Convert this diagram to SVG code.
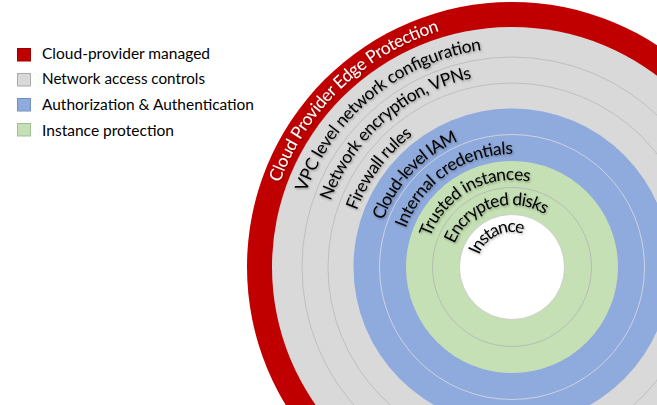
<svg xmlns="http://www.w3.org/2000/svg" width="657" height="405" viewBox="0 0 657 405">
<defs>
<style>
.lbl{font-family:Lato,"Liberation Sans",sans-serif;font-size:17.4px;fill:#000}
.wl{fill:#fff}
.leg{font-family:Lato,"Liberation Sans",sans-serif;font-size:15.5px;fill:#000}
.sep{fill:none;stroke-width:1}
</style>
<filter id="sh" x="-20%" y="-20%" width="140%" height="140%">
<feDropShadow dx="1" dy="1.2" stdDeviation="1.2" flood-color="#000" flood-opacity="0.35"/>
</filter>
<path id="p1" d="M279.90,182.52 A247,247 0 0 1 701.21,108.23"/>
<path id="p2" d="M306.21,192.10 A219,219 0 0 1 679.76,126.23"/>
<path id="p3" d="M330.64,200.99 A193,193 0 0 1 659.85,142.94"/>
<path id="p4" d="M356.95,210.57 A165,165 0 0 1 638.40,160.94"/>
<path id="p5" d="M383.26,220.14 A137,137 0 0 1 616.95,178.94"/>
<path id="p6" d="M405.81,228.35 A113,113 0 0 1 598.56,194.36"/>
<path id="p7" d="M430.25,237.24 A87,87 0 0 1 578.65,211.08"/>
<path id="p8" d="M453.74,245.79 A62,62 0 0 1 559.49,227.15"/>
<path id="p9" d="M479.11,255.03 A35,35 0 0 1 538.81,244.50"/>
</defs>
<rect width="657" height="405" fill="#fff"/>
<g id="legend">
<g id="legend-cloud"><rect x="17.5" y="48.5" width="13" height="12.5" fill="#C00000" stroke="#9a0000"/><text class="leg" x="42" y="59" textLength="168" lengthAdjust="spacingAndGlyphs">Cloud-provider managed</text></g>
<g id="legend-network"><rect x="17.5" y="73.5" width="13" height="12.5" fill="#D9D9D9" stroke="#aaaaaa"/><text class="leg" x="42" y="84" textLength="163" lengthAdjust="spacingAndGlyphs">Network access controls</text></g>
<g id="legend-auth"><rect x="17.5" y="98.5" width="13" height="12.5" fill="#8FAADC" stroke="#7490c0"/><text class="leg" x="42" y="110" textLength="212" lengthAdjust="spacingAndGlyphs">Authorization &amp; Authentication</text></g>
<g id="legend-instance"><rect x="17.5" y="123.5" width="13" height="12.5" fill="#C5E0B4" stroke="#a4bd95"/><text class="leg" x="42" y="136" textLength="132" lengthAdjust="spacingAndGlyphs">Instance protection</text></g>
</g>
<g id="rings">
<g id="ring-cloud"><circle cx="512" cy="267" r="265" fill="#C00000"/></g>
<g id="ring-network"><circle cx="512" cy="267" r="240" fill="#D9D9D9"/>
<circle class="sep" cx="512" cy="267" r="210" stroke="#BFBFBF"/>
<circle class="sep" cx="512" cy="267" r="184" stroke="#BFBFBF"/></g>
<g id="ring-auth"><circle cx="512" cy="267" r="158.5" fill="#8FAADC"/>
<circle class="sep" cx="512" cy="267" r="132.5" stroke="#CCD3E0"/></g>
<g id="ring-instance"><circle cx="512" cy="267" r="106" fill="#C5E0B4"/>
<circle class="sep" cx="512" cy="267" r="79.5" stroke="#B8BDB4"/></g>
<g id="core"><circle cx="512" cy="267" r="52.5" fill="#fff" stroke="#C8C8C8" stroke-width="0.8"/></g>
</g>
<g id="labels" filter="url(#sh)">
<text class="lbl wl"><textPath href="#p1" textLength="228" lengthAdjust="spacing">Cloud Provider Edge Protection</textPath></text>
<text class="lbl"><textPath href="#p2" textLength="237" lengthAdjust="spacing">VPC level network configuration</textPath></text>
<text class="lbl"><textPath href="#p3" textLength="195" lengthAdjust="spacing">Network encryption, VPNs</textPath></text>
<text class="lbl"><textPath href="#p4" textLength="95" lengthAdjust="spacing">Firewall rules</textPath></text>
<text class="lbl"><textPath href="#p5" textLength="112" lengthAdjust="spacing">Cloud-level IAM</textPath></text>
<text class="lbl"><textPath href="#p6" textLength="139" lengthAdjust="spacing">Internal credentials</textPath></text>
<text class="lbl"><textPath href="#p7" textLength="124" lengthAdjust="spacing">Trusted instances</textPath></text>
<text class="lbl"><textPath href="#p8" startOffset="2" textLength="108" lengthAdjust="spacing">Encrypted disks</textPath></text>
<text class="lbl"><textPath href="#p9" textLength="54" lengthAdjust="spacing">Instance</textPath></text>
</g>
<g id="connectors"/>
</svg>
